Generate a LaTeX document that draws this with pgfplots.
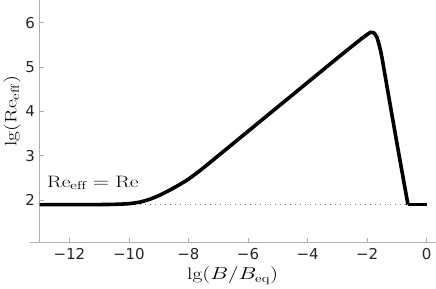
\documentclass[border=0pt]{standalone}
\usepackage{pgfplots}
\pgfplotsset{compat=1.18}
\usepackage{fontspec}
\newfontfamily\tickfont{DejaVu Sans}
\definecolor{axgray}{RGB}{175,175,175}
\newcommand{\lbl}[1]{\fontsize{16.5}{19}\selectfont\scalebox{1.3}[1]{#1}}

\begin{document}
\begin{tikzpicture}
\begin{axis}[
 scale only axis, width=406pt, height=242pt,
 xmin=-13.33, xmax=0.3, ymin=1.05, ymax=6.5,
 axis x line=bottom, axis y line=left, axis y line shift=-9.8pt,
 axis line style={-, draw=axgray, line width=0.7pt},
 xtick={-12,-10,...,0}, xticklabels={−12,−10,−8,−6,−4,−2,0},
 ytick={2,3,4,5,6}, yticklabels={2,3,4,5,6},
 tick style={draw=axgray, line width=0.7pt},
 major tick length=4pt, tick align=inside,
 tick label style={font=\tickfont\fontsize{15}{18}\selectfont, text=black!85},
 xticklabel style={yshift=-3pt},
 yticklabel style={xshift=-1pt},
 xlabel={\lbl{$\mathrm{lg}(B/B_{\mathrm{eq}})$}},
 ylabel={\lbl{$\mathrm{lg}(\mathrm{Re}_{\mathrm{eff}})$}},
 xlabel style={yshift=0pt},
 ylabel style={yshift=-2pt, xshift=10pt},
 clip=false,
]
% dotted reference level Re_eff = Re
\addplot[gray, line width=0.8pt, dash pattern=on 1pt off 4pt] coordinates {(-9.8,1.9) (-0.63,1.9)};
\addplot[black, line width=3.6pt, smooth, tension=0.35] coordinates {
 (-13,1.9) (-12,1.9) (-11,1.9) (-10.5,1.905) (-10,1.92) (-9.6,1.96) (-9.3,2.02)
 (-9.0,2.1) (-8.7,2.2) (-8.4,2.31) (-8.05,2.45) (-7.7,2.62) (-7.4,2.78)
 (-7,3.0) (-6,3.55) (-5,4.1) (-4,4.65) (-3,5.2) (-2.5,5.47) (-2.2,5.63)
 (-2.0,5.73) (-1.88,5.78) (-1.78,5.77) (-1.68,5.68) (-1.58,5.45)
 (-1.5,5.2) (-1.35,4.62) (-1.0,3.28) (-0.63,1.9)};
\addplot[black, line width=3.6pt] coordinates {(-0.63,1.9) (0,1.9)};
\node[anchor=base west, inner sep=0pt] at (axis cs:-12.75,2.29) {\lbl{$\mathrm{Re}_{\mathrm{eff}}=\mathrm{Re}$}};
\end{axis}
\end{tikzpicture}
\end{document}
